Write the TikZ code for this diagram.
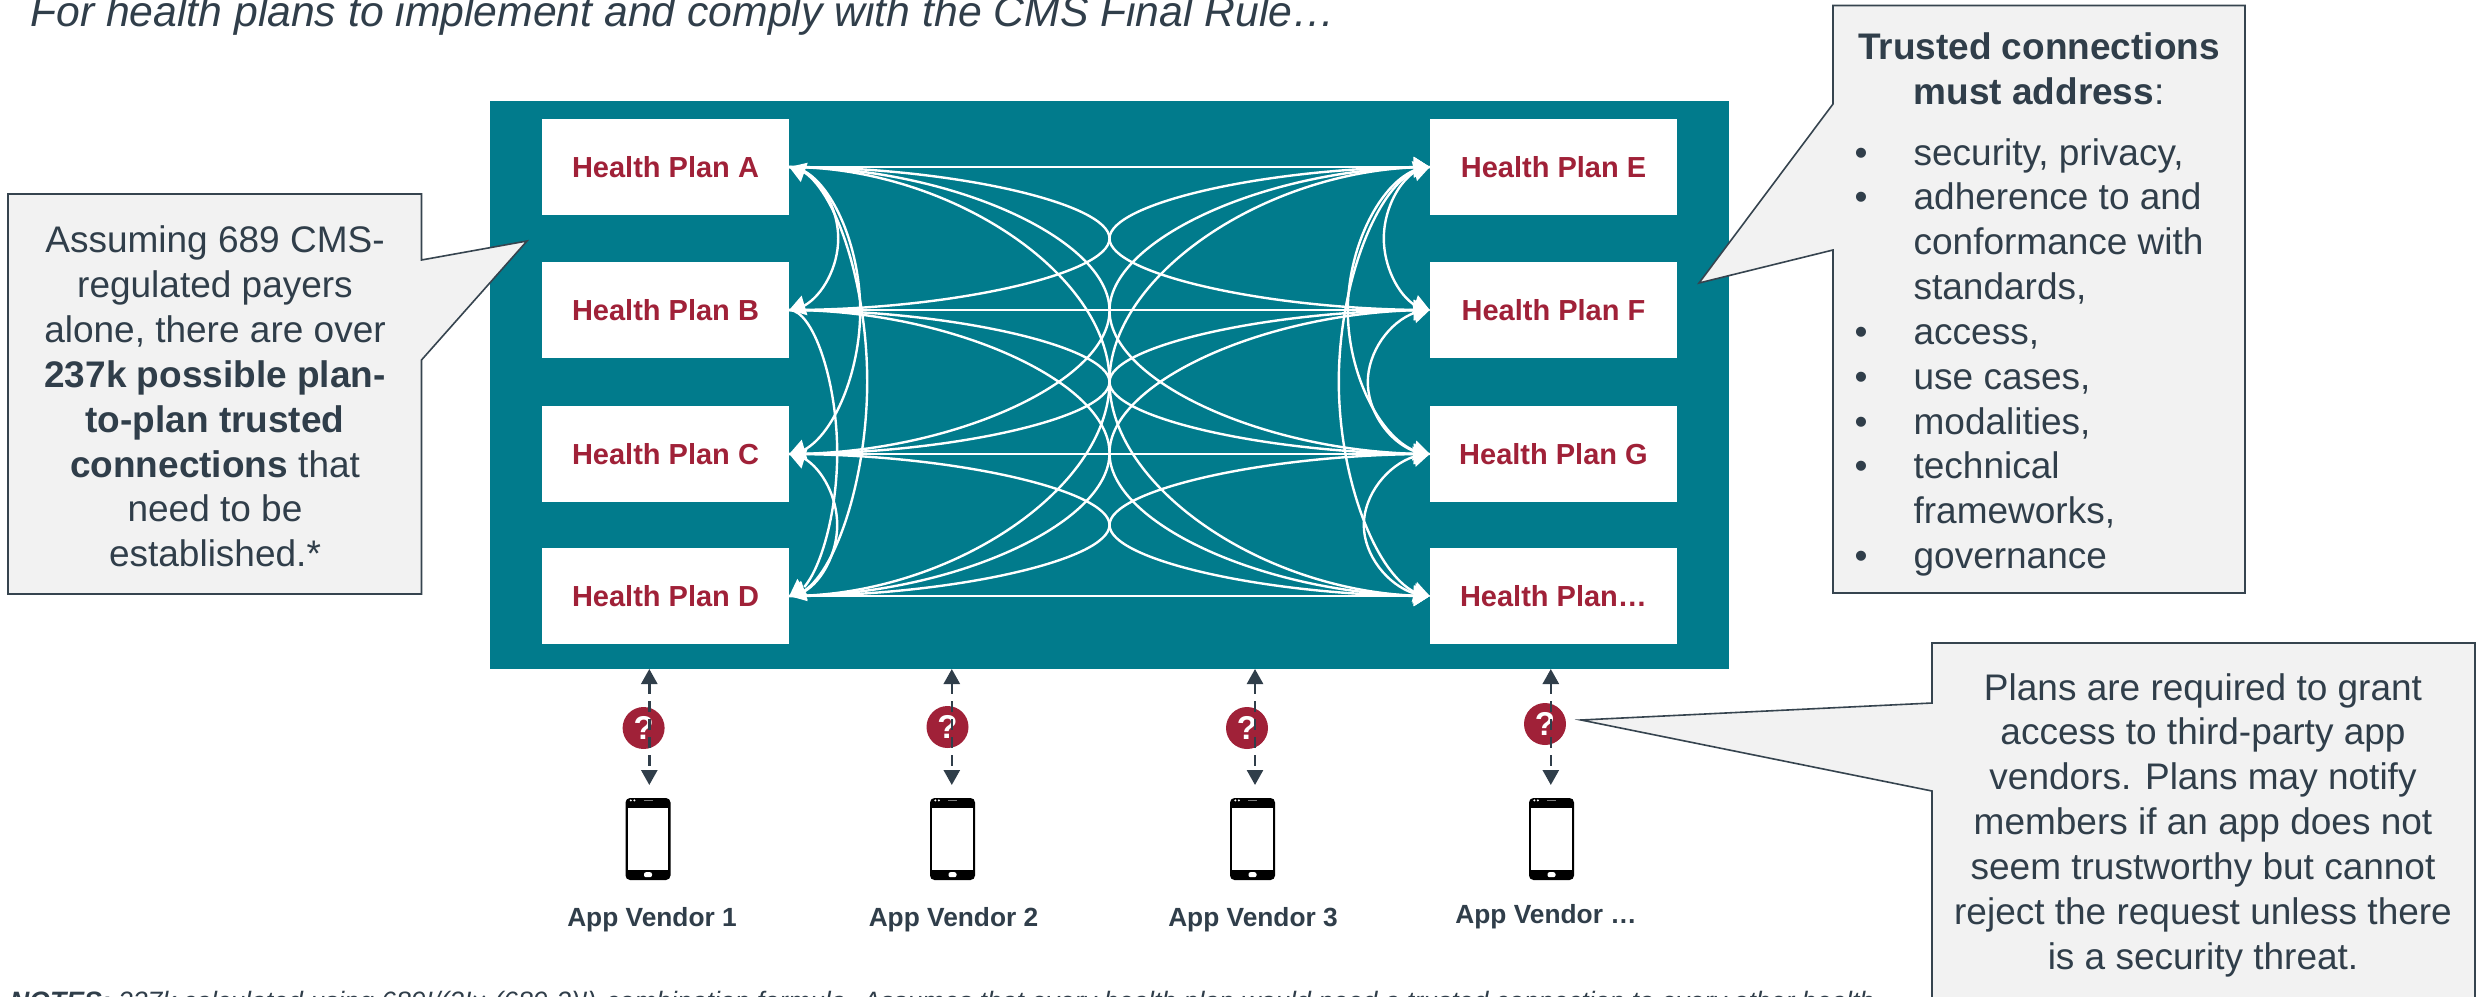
\documentclass[tikz,border=0pt]{standalone}
\usepackage{fontspec}
\setmainfont{Liberation Sans}
\usetikzlibrary{calc,arrows.meta,bending}
\definecolor{teal}{HTML}{017B8C}
\definecolor{planred}{HTML}{A02138}
\definecolor{ink}{HTML}{303E4A}
\definecolor{calloutfill}{HTML}{F2F2F2}
\definecolor{calloutline}{HTML}{36444F}
\tikzset{
  x=1pt,y=-1pt,
  plan/.style={rectangle,fill=white,minimum width=247pt,minimum height=96pt,inner sep=0pt,
    text height=21.5pt,text depth=0pt,
    text=planred,font=\fontsize{29}{34}\selectfont\bfseries},
  link/.style={draw=white,line width=2.4pt,>={Triangle[length=16pt,width=20pt]}},
  sconn/.style={to path={let \p1=(\tikztostart),\p2=(\tikztotarget) in
    .. controls ({0.75*\x1+0.25*\x2},\y1) and ({0.5*\x1+0.5*\x2},{0.75*\y1+0.25*\y2}) ..
    ({0.5*\x1+0.5*\x2},{0.5*\y1+0.5*\y2})
    .. controls ({0.5*\x1+0.5*\x2},{0.25*\y1+0.75*\y2}) and ({0.25*\x1+0.75*\x2},\y2) ..
    (\tikztotarget)}},
  carc/.style={to path={let \p1=(\tikztostart),\p2=(\tikztotarget) in
    .. controls ({\x1+0.5*(#1)},\y1) and ({\x1+(#1)},{0.75*\y1+0.25*\y2}) ..
    ({\x1+(#1)},{0.5*\y1+0.5*\y2})
    .. controls ({\x1+(#1)},{0.25*\y1+0.75*\y2}) and ({\x1+0.5*(#1)},\y2) ..
    (\tikztotarget)}},
  callout/.style={draw=calloutline,fill=calloutfill,line width=1.6pt,line join=miter},
  calltext/.style={text=ink,inner sep=0pt,align=center,font=\fontsize{37}{44.85}\selectfont},
  vlink/.style={draw=ink,line width=2.6pt,dash pattern=on 11pt off 7pt,
    <->,>={Triangle[length=15pt,width=16pt]}},
  quest/.style={circle,fill=planred,minimum size=42pt,inner sep=0pt,text=white,
    font=\fontsize{33}{33}\selectfont\bfseries},
  vendor/.style={text=ink,inner sep=0pt,font=\fontsize{26.3}{30}\selectfont\bfseries},
  phonebody/.style={rectangle,fill=black,rounded corners=4.5pt,minimum width=45pt,minimum height=82pt,inner sep=0pt},
}
\newcommand{\phoneart}[1]{%
  \fill[white] ($(#1.north west)+(2.5,10)$) rectangle ($(#1.south east)+(-2.5,-10)$);
  \fill[white] ($(#1.north west)+(5.5,2.6)$) circle (1.1) ++(3.6,0) circle (1.1);
  \fill[gray] ($(#1.north)+(-4.5,3.6)$) rectangle +(9,-1.2);
  \fill[white,rounded corners=2pt] ($(#1.south)+(-4,-8)$) rectangle +(8,5);
}
\begin{document}
\begin{tikzpicture}
\path[use as bounding box] (0,0) rectangle (2476,996);
\clip (0,0) rectangle (2476,996);
\fill[white] (0,0) rectangle (2476,996);

% title
\node[anchor=base west,inner sep=0pt,text=ink,font=\fontsize{42.7}{50}\selectfont\itshape] (title) at (30,26)
  {For health plans to implement and comply with the CMS Final Rule…};

% panel
\node[rectangle,fill=teal,minimum width=1239pt,minimum height=568pt,inner sep=0pt] (panel) at (1109.5,385) {};

% plans
\node[plan] (A) at (665.5,167) {Health Plan A};
\node[plan] (B) at (665.5,310) {Health Plan B};
\node[plan] (C) at (665.5,454) {Health Plan C};
\node[plan] (D) at (665.5,596) {Health Plan D};
\node[plan] (E) at (1553.5,167) {Health Plan E};
\node[plan] (F) at (1553.5,310) {Health Plan F};
\node[plan] (G) at (1553.5,454) {Health Plan G};
\node[plan] (H) at (1553.5,596) {Health Plan…};

% plan-to-plan links
\foreach \a in {A,B,C,D}
  \foreach \b in {E,F,G,H}
    \draw[link,->,sconn] (\a.east) to (\b.west);

\draw[link,->,carc=49pt] (A.east) to (B.east);
\draw[link,->,carc=71pt] (A.east) to (C.east);
\draw[link,<->,carc=78pt] (A.east) to (D.east);
\draw[link,->,carc=48pt] (B.east) to (D.east);
\draw[link,<->,carc=48pt] (C.east) to (D.east);
\draw[link,->,carc=-46pt] (E.west) to (F.west);
\draw[link,<-,carc=-62pt] (F.west) to (G.west);
\draw[link,->,carc=-82pt] (E.west) to (G.west);
\draw[link,<->,carc=-66pt] (G.west) to (H.west);
\draw[link,<->,carc=-91pt] (E.west) to (H.west);

% vendors
\foreach \i/\cx/\ax/\cy/\px in {1/643.6/649.3/728/648,2/947.5/951.8/727/952.5,3/1247/1255/728/1252.5,4/1545/1550.8/724/1551.5}{
  \node[quest] (q\i) at (\cx,\cy) {?};
  \node[phonebody] (ph\i) at (\px,839) {};
  \phoneart{ph\i}
  \coordinate (up\i) at (\ax,669);
  \coordinate (dn\i) at (\ax,785);
  \draw[vlink] (up\i) -- (dn\i);
}
\node[vendor] (v1) at (652,919.5) {App Vendor 1};
\node[vendor] (v2) at (953.5,919.5) {App Vendor 2};
\node[vendor] (v3) at (1253,919.5) {App Vendor 3};
\node[vendor] (v4) at (1546,917) {App Vendor …};

% left callout
\draw[callout] (8,194) -- (421.5,194) -- (421.5,260) -- (527,241) -- (421.5,360) -- (421.5,594) -- (8,594) -- cycle;
\node[calltext] (lefttext) at (215,396.5) {Assuming 689 CMS-\\regulated payers\\alone, there are over\\\textbf{237k possible plan-}\\\textbf{to-plan trusted}\\\textbf{connections} that\\need to be\\established.*};

% upper right callout
\draw[callout] (1833,5.5) -- (2245,5.5) -- (2245,593) -- (1833,593) -- (1833,250) -- (1699,283) -- (1833,104) -- cycle;
\node[calltext] (trustedhead) at (2039,68.5) {\textbf{Trusted connections}\\\textbf{must address}:};
\node[calltext,align=left,anchor=north west] (trustedlist) at (1913.4,138) {%
  \llap{•\hspace{46pt}}security, privacy,\\
  \llap{•\hspace{46pt}}adherence to and\\
  conformance with\\
  standards,\\
  \llap{•\hspace{46pt}}access,\\
  \llap{•\hspace{46pt}}use cases,\\
  \llap{•\hspace{46pt}}modalities,\\
  \llap{•\hspace{46pt}}technical\\
  frameworks,\\
  \llap{•\hspace{46pt}}governance};

% lower right callout
\draw[callout] (1932,643) -- (2475,643) -- (2475,1010) -- (1932,1010) -- (1932,791) -- (1581,720) -- (1932,703) -- cycle;
\node[calltext] (grant) at (2203,825) {Plans are required to grant\\access to third-party app\\vendors. Plans may notify\\members if an app does not\\seem trustworthy but cannot\\reject the request unless there\\is a security threat.};

% notes, cut by the page edge
\node[anchor=base west,inner sep=0pt,text=ink,font=\fontsize{26.6}{30}\selectfont\itshape] (notes) at (10,1010)
  {\textbf{NOTES:} 237k calculated using 689!/(2!× (689-2)!) combination formula. Assumes that every health plan would need a trusted connection to every other health};
\end{tikzpicture}
\end{document}
